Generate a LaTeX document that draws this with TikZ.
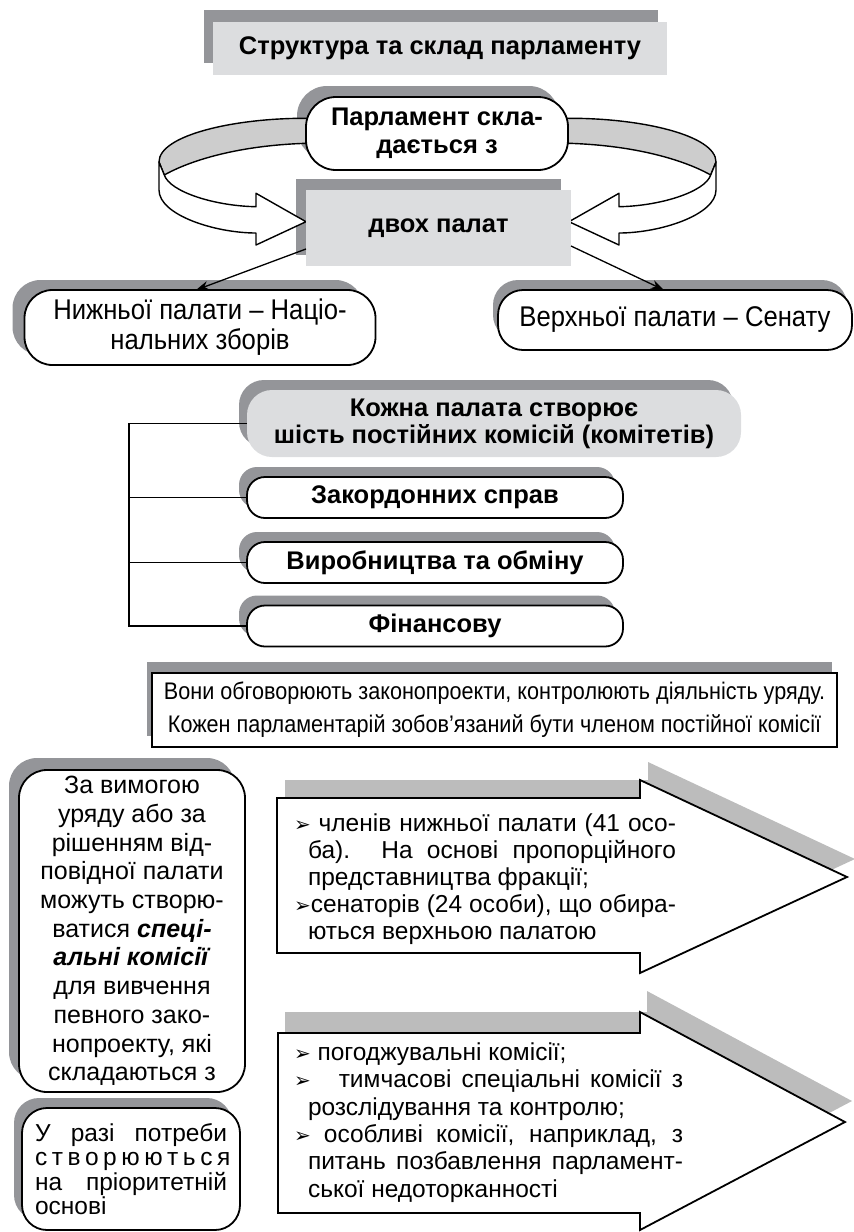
\documentclass[tikz,border=0pt]{standalone}
\usepackage{fontspec}
\setmainfont{Liberation Sans}
\newfontfamily\nr[FakeStretch=0.9]{Liberation Sans}
\newfontfamily\dv{DejaVu Sans}
\usetikzlibrary{arrows.meta}
\definecolor{sgray}{RGB}{148,149,153}
\definecolor{lgray}{RGB}{220,221,223}
\definecolor{rgray}{RGB}{205,205,205}
\definecolor{agray}{RGB}{188,188,188}
\pgfdeclarelayer{bg}
\pgfdeclarelayer{mid}
\pgfsetlayers{bg,mid,main}
\newcommand\bul{{\dv\fontsize{20}{20}\selectfont ➢}}
\newcommand\J[2]{\makebox[#1][s]{#2}}
\newcommand\Lft[2]{\makebox[#1][l]{#2}}
\newcommand\shadowof[4]{%
  \begin{pgfonlayer}{bg}
  \fill[sgray,rounded corners=#4] ([shift={(#2,#3)}]#1.south west) rectangle ([shift={(#2,#3)}]#1.north east);
  \end{pgfonlayer}}
\begin{document}
\begin{tikzpicture}[x=1pt,y=-1pt,
  every node/.style={inner sep=0pt,outer sep=0pt},
  bfont/.style={font=\fontsize{25.5}{28}\selectfont\bfseries},
  wbox/.style={draw,line width=1.8pt,fill=white,align=center},
  gbox/.style={fill=lgray,align=center},
  conn/.style={line width=1.3pt},
  ribbon/.style={line width=1.4pt,line join=round},
  blockarrow/.style={draw,fill=white,line width=1.8pt,line join=miter},
]
\useasboundingbox (0,0) rectangle (854,1232);

% ---- top part
\node[gbox,bfont,minimum width=454pt,minimum height=53pt] (title) at (440,48.5) {Структура та склад парламенту};
\shadowof{title}{-9}{-12}{0pt}

\node[wbox,bfont,rounded corners=30pt,minimum width=262pt,minimum height=73pt] (parl) at (437,133.5) {Парламент скла-\\дається з};
\shadowof{parl}{-9}{-11}{30pt}

\node[gbox,bfont,minimum width=265pt,minimum height=76pt] (dvoh) at (438.5,228) {двох палат};
\shadowof{dvoh}{-10}{-11}{0pt}

% ribbons
\begin{pgfonlayer}{mid}
\foreach \s/\o in {1/0,-1/875}{
\begin{scope}[shift={(\o,0)},xscale=\s]
  \filldraw[ribbon,fill=rgray] (545,118) -- (569,118.3) .. controls (640,118) and (716,135) .. (716,162)
     -- (710.7,175) .. controls (695,166) and (650,146) .. (569,143.3) -- (545,143) -- cycle;
  \filldraw[ribbon,fill=white] (716,162) -- (716,190) .. controls (716,215) and (660,233) .. (619,233)
     -- (619,245) -- (569,221.7) -- (619,193.3) -- (619,206.7)
     .. controls (660,206) and (705,192) .. (710.7,175) -- cycle;
\end{scope}}
\end{pgfonlayer}

% chambers
\node[wbox,font=\nr\fontsize{28.5}{30}\selectfont,rounded corners=28pt,minimum width=351pt,minimum height=75pt] (lower) at (200,327.5) {Нижньої палати – Націо-\\нальних зборів};
\shadowof{lower}{-12}{-10}{28pt}
\node[wbox,font=\nr\fontsize{28.5}{30}\selectfont,rounded corners=25pt,minimum width=354pt,minimum height=60pt] (upper) at (675,320) {Верхньої палати – Сенату};
\shadowof{upper}{-5}{-10}{25pt}

\draw[conn,-{Stealth[length=13pt,width=9pt]}] ([yshift=17pt]dvoh.south west) -- ([xshift=-4pt]lower.north);
\draw[conn,-{Stealth[length=13pt,width=9pt]}] ([yshift=20pt]dvoh.south east) -- ([xshift=-11pt]upper.north);

% committees
\node[gbox,font=\fontsize{25.5}{27}\selectfont\bfseries,rounded corners=25pt,minimum width=494pt,minimum height=67pt] (each) at (494,423.5) {Кожна палата створює\\шість постійних комісій (комітетів)};
\shadowof{each}{-8}{-10}{25pt}
\node[wbox,bfont,rounded corners=18pt,minimum width=376pt,minimum height=41pt] (zak) at (435,497.5) {Закордонних справ};
\shadowof{zak}{-8}{-10}{18pt}
\node[wbox,bfont,rounded corners=18pt,minimum width=376pt,minimum height=41pt] (vyr) at (435,562.5) {Виробництва та обміну};
\shadowof{vyr}{-8}{-10}{18pt}
\node[wbox,bfont,rounded corners=18pt,minimum width=376pt,minimum height=41pt] (fin) at (435,626) {Фінансову};
\shadowof{fin}{-8}{-10}{18pt}

\coordinate (bt) at (129,423.5);
\draw[conn] (each.west) -- (bt) |- (fin.west);
\draw[conn] (bt |- zak.west) -- (zak.west);
\draw[conn] (bt |- vyr.west) -- (vyr.west);

% note
\node[draw,line width=1.8pt,fill=white,align=center,font=\nr\fontsize{24}{33}\selectfont,minimum width=685pt,minimum height=74pt] (note) at (494.5,710) {Вони обговорюють законопроекти, контролюють діяльність уряду.\\Кожен парламентарій зобов’язаний бути членом постійної комісії};
\shadowof{note}{-5}{-11}{0pt}

% left boxes
\node[wbox,font=\fontsize{25}{28.7}\selectfont,rounded corners=28pt,minimum width=226pt,minimum height=322pt] (vymoga) at (132,931) {За вимогою\\уряду або за\\рішенням від-\\повідної палати\\можуть створю-\\ватися \textbf{\textit{спеці-}}\\\textbf{\textit{альні комісії}}\\для вивчення\\певного зако-\\нопроекту, які\\складаються з};
\shadowof{vymoga}{-10}{-12}{28pt}

\node[wbox,align=left,font=\fontsize{24.5}{24.5}\selectfont,rounded corners=25pt,minimum width=218pt,minimum height=122pt] (razi) at (131,1169) {\J{192pt}{У разі потреби}\\\J{192pt}{с т в о р ю ю т ь с я}\\\J{192pt}{на пріоритетній}\\\Lft{192pt}{основі}};
\shadowof{razi}{-8}{-10}{25pt}

% block arrows
\begin{pgfonlayer}{bg}
\fill[agray,shift={(8,-18)}] (277,798) -- (640,798) -- (640,780) -- (847,877) -- (640,973) -- (640,953) -- (277,953) -- cycle;
\fill[agray,shift={(7,-21)}] (278,1033) -- (640,1033) -- (640,1012) -- (845,1122) -- (640,1230) -- (640,1213) -- (278,1213) -- cycle;
\end{pgfonlayer}
\path[blockarrow] (277,798) -- (640,798) -- (640,780) -- (847,877) -- (640,973) -- (640,953) -- (277,953) -- cycle;
\path[blockarrow] (278,1033) -- (640,1033) -- (640,1012) -- (845,1122) -- (640,1230) -- (640,1213) -- (278,1213) -- cycle;

\node[align=left,font=\fontsize{24.5}{27}\selectfont] (a1) at (485,879) {%
\J{382pt}{\bul\ членів нижньої палати (41 осо-}\\
\J{382pt}{\hspace*{14pt}ба). На основі пропорційного}\\
\Lft{382pt}{\hspace*{14pt}представництва фракції;}\\
\J{382pt}{\bul сенаторів (24 особи), що обира-}\\
\Lft{382pt}{\hspace*{14pt}ються верхньою палатою}};

\node[align=left,font=\fontsize{24.5}{27.3}\selectfont] (a2) at (488.5,1122.5) {%
\Lft{389pt}{\bul\ погоджувальні комісії;}\\
\J{389pt}{\bul\hspace{28pt}тимчасові спеціальні комісії з}\\
\Lft{389pt}{\hspace*{14pt}розслідування та контролю;}\\
\J{389pt}{\bul\ особливі комісії, наприклад, з}\\
\J{389pt}{\hspace*{14pt}питань позбавлення парламент-}\\
\Lft{389pt}{\hspace*{14pt}ської недоторканності}};
\end{tikzpicture}
\end{document}
